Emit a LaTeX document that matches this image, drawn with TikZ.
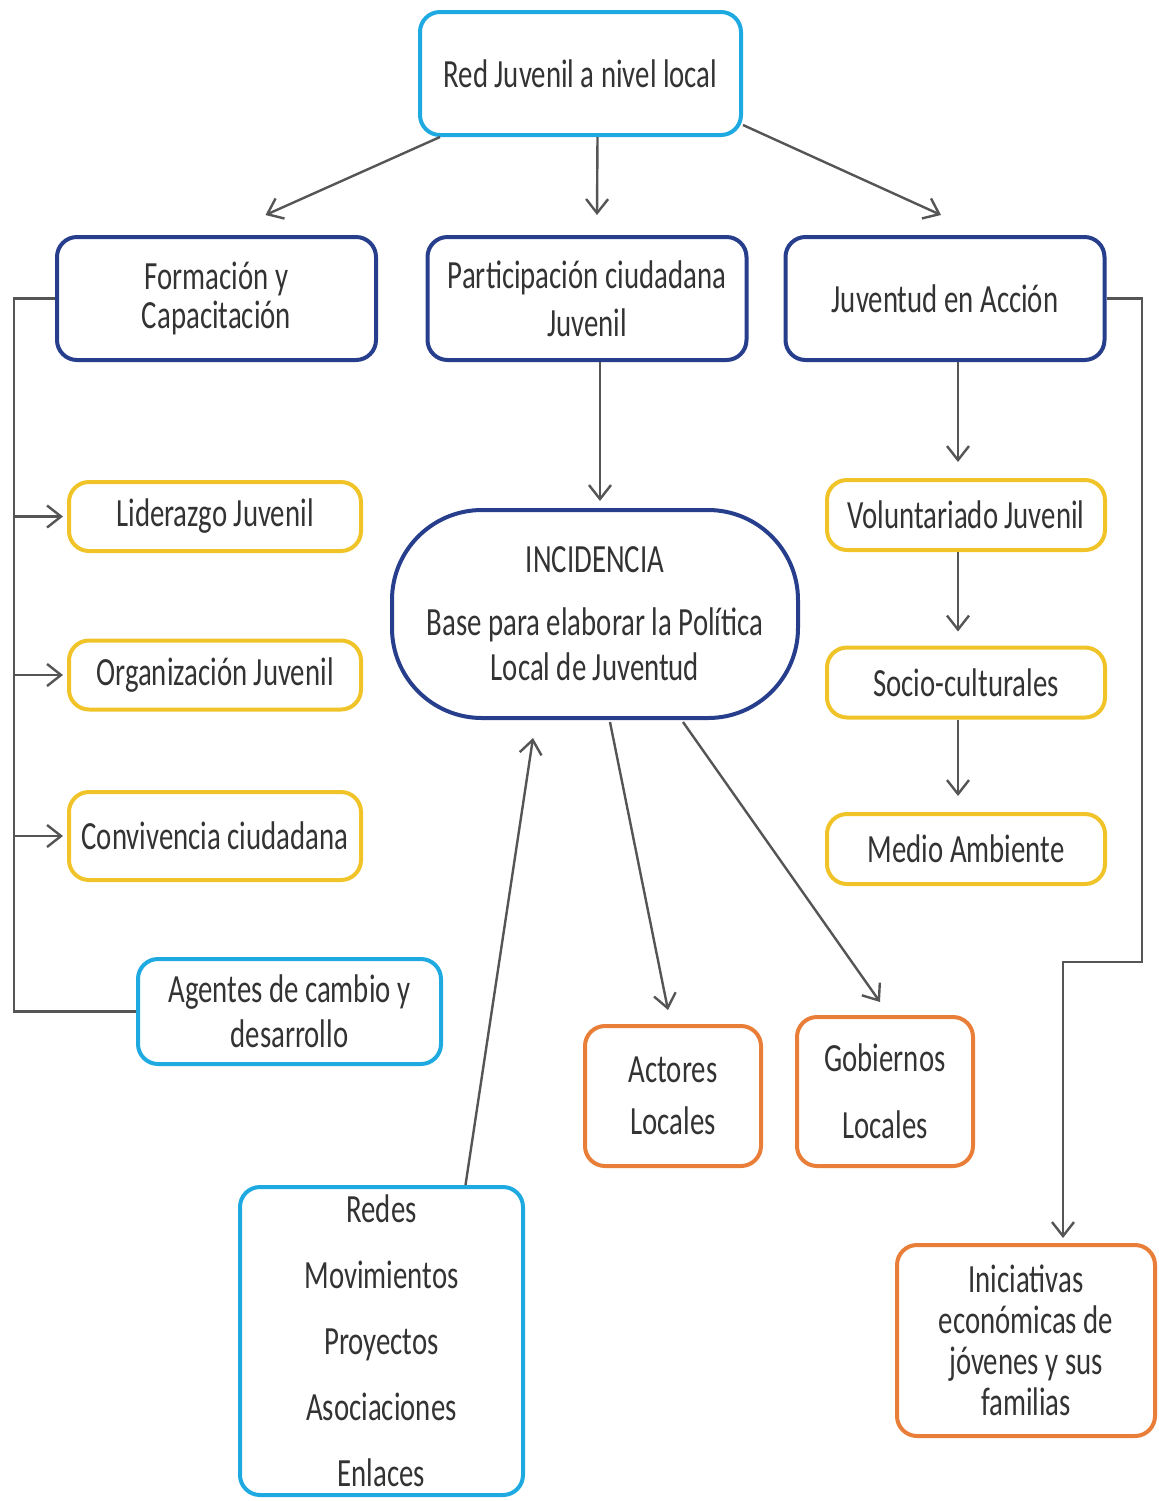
\documentclass[tikz,border=0pt]{standalone}
\usepackage{fontspec}
\setmainfont{Carlito}[FakeStretch=0.72]
\usetikzlibrary{arrows.meta}
\definecolor{lblue}{RGB}{30,170,225}
\definecolor{dblue}{RGB}{38,62,140}
\definecolor{yel}{RGB}{240,196,40}
\definecolor{ora}{RGB}{232,126,56}
\definecolor{lgray}{RGB}{85,85,85}
\begin{document}
\begin{tikzpicture}[x=0.5pt,y=-0.5pt,
box/.style={draw,rounded corners=10pt,line width=2pt,align=center,inner sep=0pt,text=black!80,font=\fontsize{20}{24}\selectfont},
lbox/.style={box,draw=lblue},
dbox/.style={box,draw=dblue,minimum width=159.5pt,minimum height=61.5pt},
ybox/.style={box,draw=yel,minimum width=146pt,minimum height=34.5pt},
obox/.style={box,draw=ora},
arr/.style={draw=lgray,line width=1.2pt,-{Straight Barb[length=7pt,width=11pt]}},
con/.style={draw=lgray,line width=1.2pt}]
\useasboundingbox (0,0) rectangle (1159,1501);
\node[lbox,minimum width=160.5pt,minimum height=61.5pt] (red) at (580.5,73.5) {Red Juvenil a nivel local};
\node[dbox,font=\fontsize{20}{19.5}\selectfont] (form) at (216.5,298.5) {Formación y\\Capacitación};
\node[dbox] (part) at (587,298.5) {Participación ciudadana\\Juvenil};
\node[dbox] (juv) at (945,298.5) {Juventud en Acción};
\node[ybox] (lid) at (215,516.5) {Liderazgo Juvenil};
\node[ybox] (org) at (215,675) {Organización Juvenil};
\node[ybox,minimum height=44pt] (conv) at (215,836) {Convivencia ciudadana};
\node[lbox,minimum width=151.5pt,minimum height=52.5pt,font=\fontsize{20}{22.5}\selectfont] (agen) at (289.5,1011.5) {Agentes de cambio y\\desarrollo};
\node[box,draw=dblue,rounded corners=45pt,minimum width=203pt,minimum height=104pt,font=\fontsize{20}{22.5}\selectfont] (inc) at (595,614) {INCIDENCIA\\[9pt]Base para elaborar la Política\\Local de Juventud};
\node[ybox,minimum width=139pt,minimum height=35pt] (vol) at (966,515) {Voluntariado Juvenil};
\node[ybox,minimum width=139pt,minimum height=35pt] (soc) at (966,682.5) {Socio-culturales};
\node[ybox,minimum width=139pt,minimum height=35pt] (med) at (966,849) {Medio Ambiente};
\node[obox,minimum width=88pt,minimum height=70pt,font=\fontsize{20}{26}\selectfont] (act) at (673,1096) {Actores\\Locales};
\node[obox,minimum width=88pt,minimum height=74.5pt,font=\fontsize{20}{33.5}\selectfont] (gob) at (885,1091.5) {Gobiernos\\Locales};
\node[obox,minimum width=129pt,minimum height=95.5pt,font=\fontsize{20}{20.5}\selectfont] (ini) at (1026,1340.5) {Iniciativas\\económicas de\\jóvenes y sus\\familias};
\node[lbox,minimum width=141.5pt,minimum height=154pt,font=\fontsize{20}{33}\selectfont] (redes) at (381.5,1341) {Redes\\Movimientos\\Proyectos\\Asociaciones\\Enlaces};
\coordinate (lb) at (14,298.5);
\coordinate (rb) at (1142,298.5);
\coordinate (rk) at (1063,962);
\draw[arr] ([shift={(22,0)}]red.south west) -- ([shift={(49,-20)}]form.north);
\draw[arr] ([shift={(17,0)}]red.south) -- ([shift={(10,-20)}]part.north);
\draw[arr] ([shift={(0,-12)}]red.south east) -- ([shift={(-4,-20)}]juv.north);
\draw[arr] ([shift={(13,0)}]part.south) -- ([shift={(5,-7)}]inc.north);
\draw[con] (form.west) -- (lb) |- (agen.west);
\draw[arr] (lb |- lid.west) -- ([xshift=-2pt]lid.west);
\draw[arr] (lb |- org.west) -- ([xshift=-2pt]org.west);
\draw[arr] (lb |- conv.west) -- ([xshift=-2pt]conv.west);
\draw[arr] ([shift={(-8,0)}]juv.south east -| vol.north) -- ([shift={(-8,-16)}]vol.north);
\draw[arr] ([xshift=-4pt]vol.south) -- ([shift={(-8,-14)}]soc.north);
\draw[arr] ([xshift=-4pt]soc.south) -- ([shift={(-8,-16)}]med.north);
\draw[arr] (juv.east) -- (rb) |- (rk) -- ([shift={(0,-5)}]rk |- ini.north);
\draw[arr] ([shift={(15,2)}]inc.south) -- ([shift={(-5,-14)}]act.north);
\draw[arr] ([shift={(88,2)}]inc.south) -- ([shift={(-5,-13)}]gob.north);
\draw[arr] ([shift={(84,0)}]redes.north) -- ([shift={(-62,18)}]inc.south);
\end{tikzpicture}
\end{document}
